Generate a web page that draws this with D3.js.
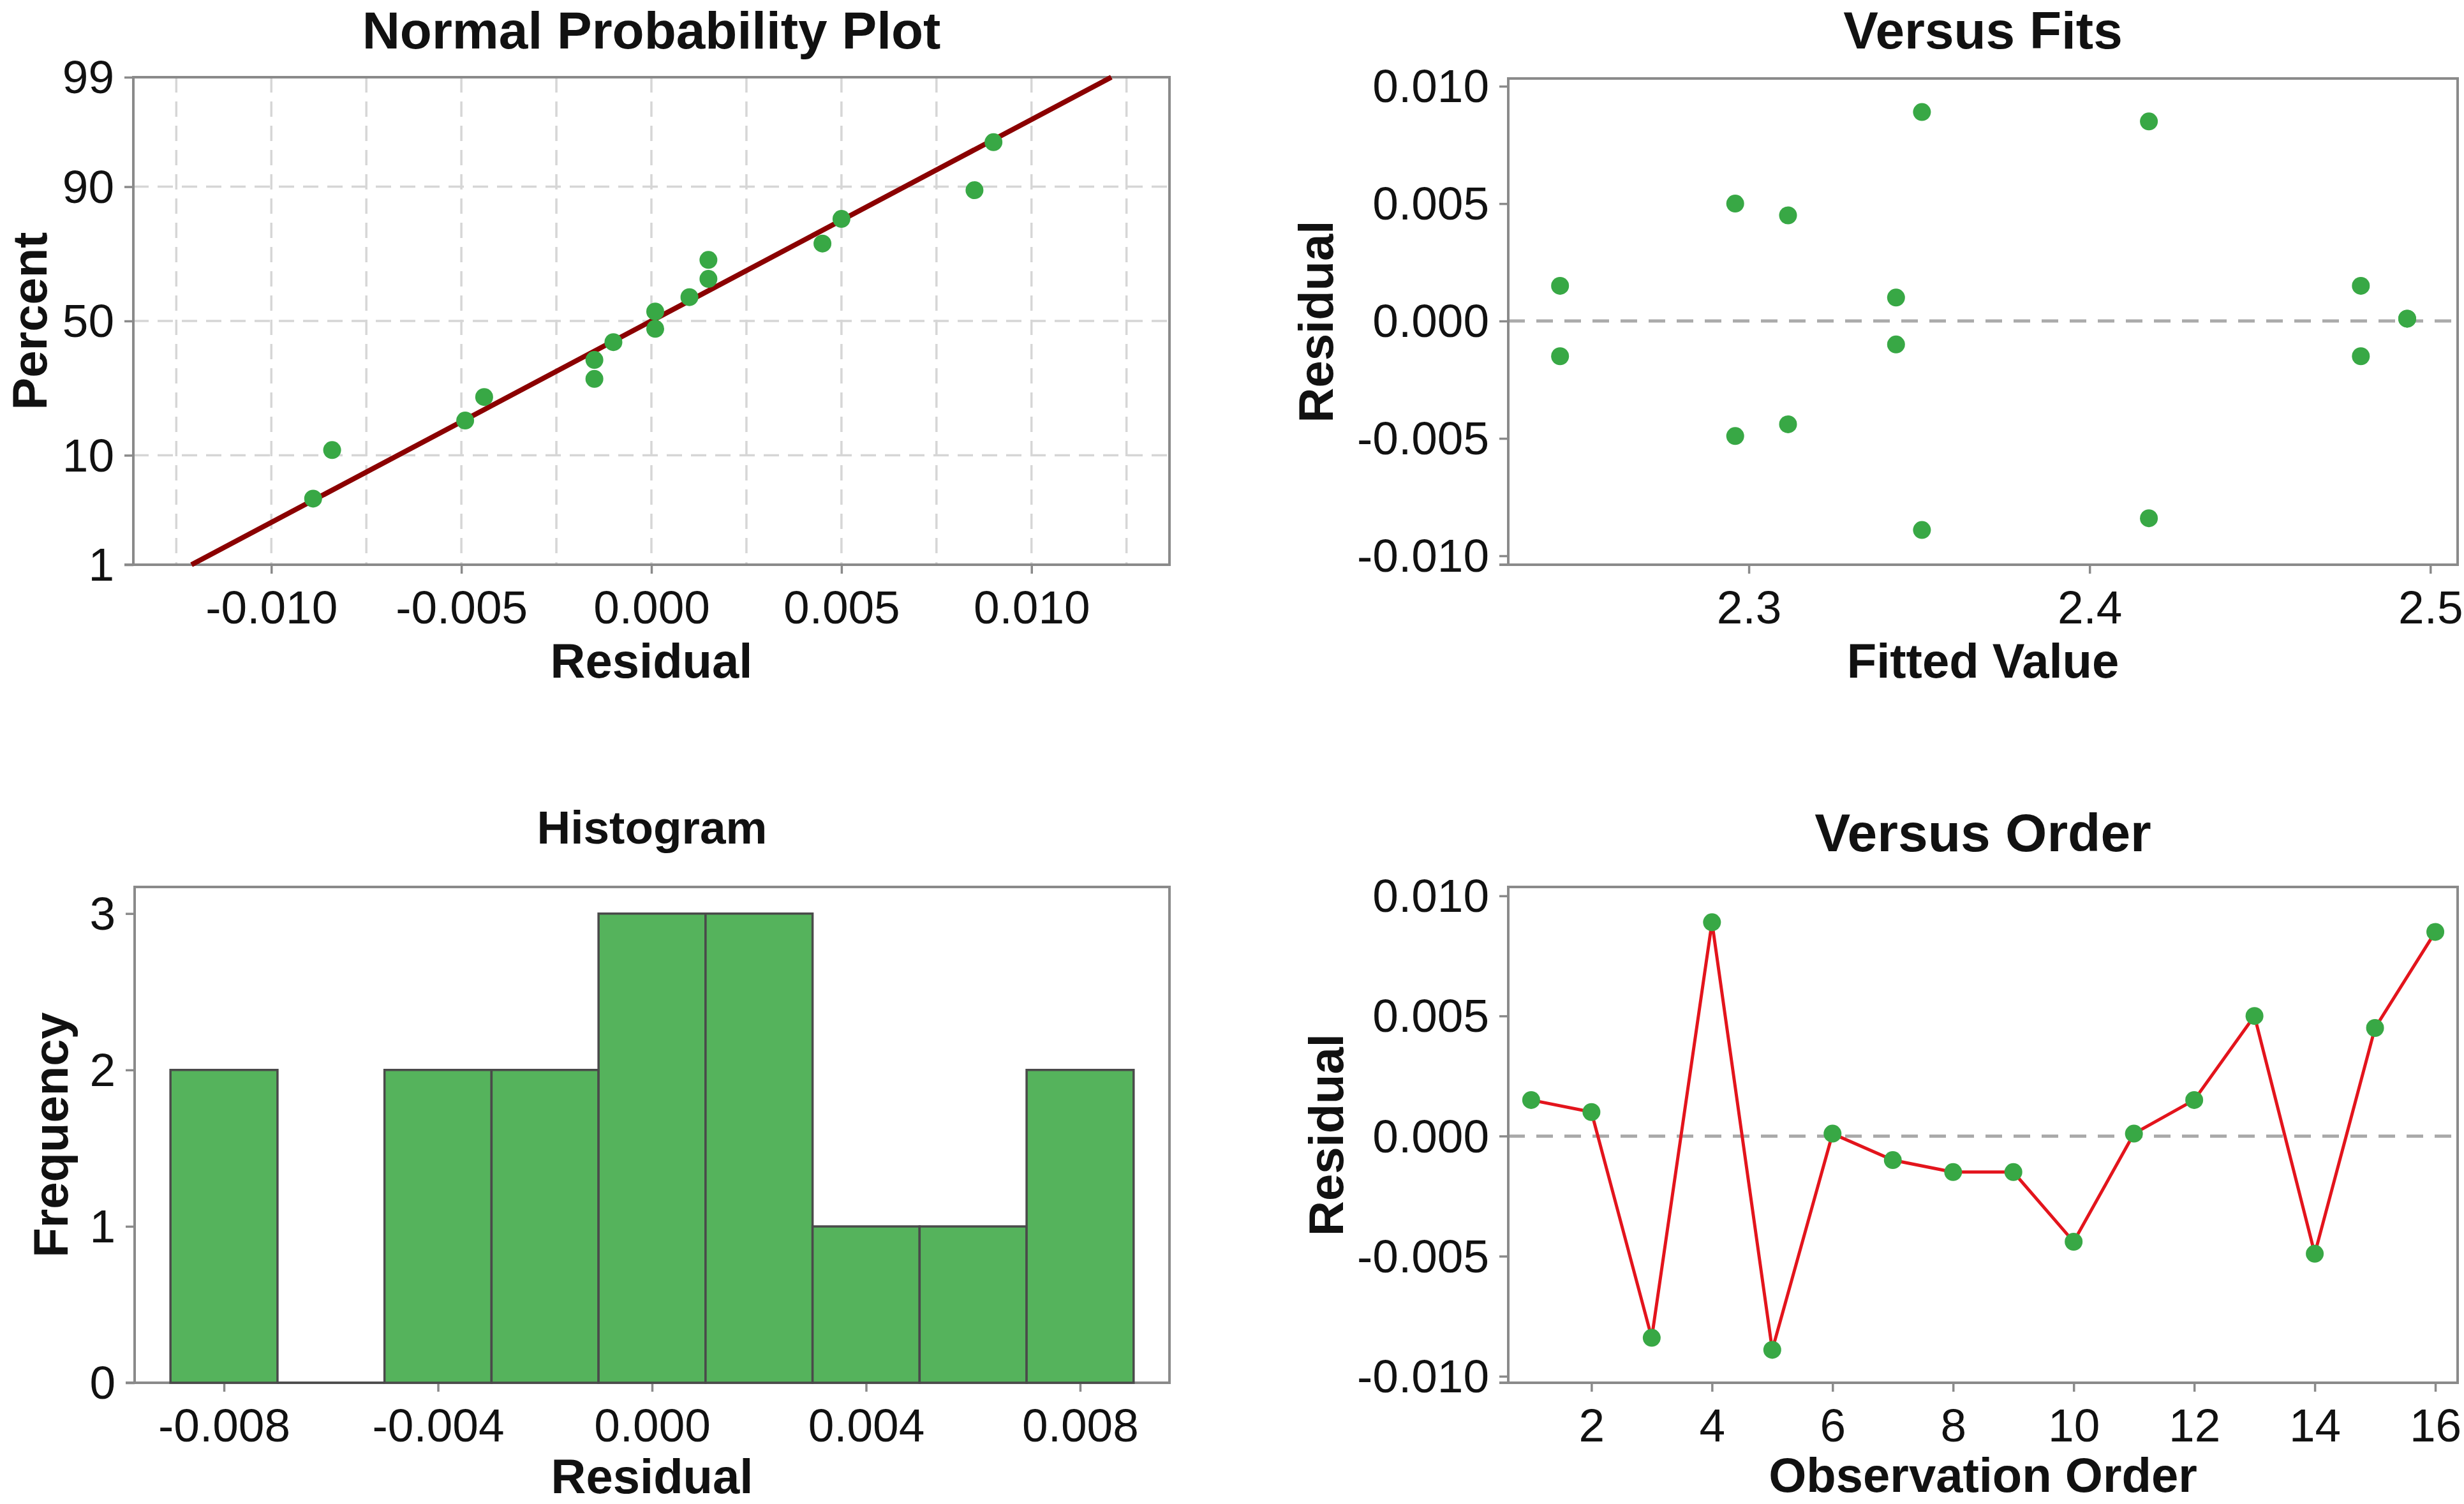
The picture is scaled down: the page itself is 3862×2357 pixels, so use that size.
<!DOCTYPE html>
<html>
<head>
<meta charset="utf-8">
<title>Residual Plots</title>
<script src="https://cdn.jsdelivr.net/npm/d3@7"></script>
<style>
  body { margin: 0; background: #fff; }
  text { font-family: "Liberation Sans", Arial, sans-serif; fill: #111; }
  .title { font-weight: bold; text-anchor: middle; }
  .label { font-weight: bold; font-size: 76px; text-anchor: middle; }
  .axis text { font-size: 73px; fill: #111; }
  .axis line { stroke: #8a8a8a; stroke-width: 3.5; }
  .axis path { display: none; }
</style>
</head>
<body>
<script>
// ---- data ----
// normal probability plot (sorted residuals and their plotted percent)
var npResidual = [-0.0089, -0.0084, -0.0049, -0.0044, -0.0015, -0.0015, -0.0010, 0.0001,
                  0.0001, 0.0010, 0.0015, 0.0015, 0.0045, 0.0050, 0.0085, 0.0090];
var npPercent  = [4.5, 10.9, 17.1, 23.4, 29.0, 35.5, 42.0, 47.0,
                  53.6, 59.0, 65.6, 72.0, 77.0, 83.5, 89.4, 95.6];
var fitLineResidual = [-0.0121, 0.0121];
var fitLinePercent  = [1, 99];

// residuals in observation order, and the fitted value of each observation
var order     = [1, 2, 3, 4, 5, 6, 7, 8, 9, 10, 11, 12, 13, 14, 15, 16];
var residuals = [0.0015, 0.0010, -0.0084, 0.0089, -0.0089, 0.0001, -0.0010, -0.0015,
                 -0.0015, -0.0044, 0.0001, 0.0015, 0.0050, -0.0049, 0.0045, 0.0085];
var fitted    = [2.2446, 2.3432, 2.4174, 2.3508, 2.3508, 2.4932, 2.3432, 2.2446,
                 2.4796, 2.3115, 2.4932, 2.4796, 2.2960, 2.2960, 2.3115, 2.4174];

// histogram
var binCenters = [-0.008, -0.006, -0.004, -0.002, 0.000, 0.002, 0.004, 0.006, 0.008];
var binCounts  = [2, 0, 2, 2, 3, 3, 1, 1, 2];
var binWidth = 0.002;

// tick labels
var npXTicks = [-0.010, -0.005, 0.000, 0.005, 0.010];
var npGridX = [-0.0125, -0.0100, -0.0075, -0.0050, -0.0025, 0, 0.0025, 0.0050, 0.0075, 0.0100, 0.0125];
var percentTicks = [1, 10, 50, 90, 99];
var percentGrid = [10, 50, 90];
var residTicks = [-0.010, -0.005, 0.000, 0.005, 0.010];
var fitTicks = [2.3, 2.4, 2.5];
var histXTicks = [-0.008, -0.004, 0.000, 0.004, 0.008];
var freqTicks = [0, 1, 2, 3];
var orderTicks = [2, 4, 6, 8, 10, 12, 14, 16];

// ---- layout ----
var width = 3862, height = 2357;
var tickLen = 14, tickPad = 16;
var green = "#38a845", histFill = "#55b35c", histStroke = "#4a4a4a";
var boxColor = "#8a8a8a";

var loc = d3.formatLocale({decimal: ".", thousands: ",", grouping: [3], currency: ["", ""], minus: "-"});
var f3 = loc.format(".3f"), f1 = loc.format(".1f"), f0 = loc.format("d");

// inverse standard normal cdf (Acklam), used by the probability scale
function probit(p) {
  var a = [-3.969683028665376e+01, 2.209460984245205e+02, -2.759285104469687e+02, 1.383577518672690e+02, -3.066479806614716e+01, 2.506628277459239e+00];
  var b = [-5.447609879822406e+01, 1.615858368580409e+02, -1.556989798598866e+02, 6.680131188771972e+01, -1.328068155288572e+01];
  var c = [-7.784894002430293e-03, -3.223964580411365e-01, -2.400758277161838e+00, -2.549732539343734e+00, 4.374664141464968e+00, 2.938163982698783e+00];
  var d = [7.784695709041462e-03, 3.224671290700398e-01, 2.445134137142996e+00, 3.754408661907416e+00];
  var pl = 0.02425, q, r;
  if (p < pl) {
    q = Math.sqrt(-2 * Math.log(p));
    return (((((c[0]*q+c[1])*q+c[2])*q+c[3])*q+c[4])*q+c[5]) / ((((d[0]*q+d[1])*q+d[2])*q+d[3])*q+1);
  }
  if (p > 1 - pl) {
    q = Math.sqrt(-2 * Math.log(1 - p));
    return -(((((c[0]*q+c[1])*q+c[2])*q+c[3])*q+c[4])*q+c[5]) / ((((d[0]*q+d[1])*q+d[2])*q+d[3])*q+1);
  }
  q = p - 0.5; r = q * q;
  return (((((a[0]*r+a[1])*r+a[2])*r+a[3])*r+a[4])*r+a[5])*q / (((((b[0]*r+b[1])*r+b[2])*r+b[3])*r+b[4])*r+1);
}

var svg = d3.select("body").append("svg").attr("width", width).attr("height", height);
svg.append("rect").attr("width", width).attr("height", height).attr("fill", "#fff");

function panel(box, o) {
  var g = svg.append("g");
  // axes
  g.append("g").attr("class", "axis").attr("transform", "translate(0," + box.y1 + ")")
    .call(d3.axisBottom(o.x).tickValues(o.xTicks).tickFormat(o.xFmt).tickSize(tickLen).tickPadding(26).tickSizeOuter(0));
  var ya = g.append("g").attr("class", "axis").attr("transform", "translate(" + box.x0 + ",0)")
    .call(d3.axisLeft(o.y).tickValues(o.yTicks).tickFormat(o.yFmt).tickSize(tickLen).tickPadding(tickPad).tickSizeOuter(0));
  ya.selectAll("text").attr("dy", "0.34em");
  // frame
  g.append("rect").attr("x", box.x0).attr("y", box.y0).attr("width", box.x1 - box.x0).attr("height", box.y1 - box.y0)
    .attr("fill", "none").attr("stroke", boxColor).attr("stroke-width", 4);
  g.append("line").attr("x1", box.x0 - tickLen).attr("x2", box.x0).attr("y1", box.y1).attr("y2", box.y1)
    .attr("stroke", boxColor).attr("stroke-width", 4);
  // titles
  var cx = (box.x0 + box.x1) / 2;
  g.append("text").attr("class", "title").attr("x", cx).attr("y", o.titleY).style("font-size", o.titleSize + "px").text(o.title);
  g.append("text").attr("class", "label").attr("x", cx).attr("y", o.xLabelY).text(o.xLabel);
  g.append("text").attr("class", "label").attr("dy", "0.35em")
    .attr("transform", "translate(" + o.yLabelX + "," + (box.y0 + box.y1) / 2 + ") rotate(-90)").text(o.yLabel);
  return g;
}

// ---- Normal Probability Plot ----
var b1 = {x0: 209, x1: 1833, y0: 121, y1: 885};
var x1 = d3.scaleLinear().domain([-0.01363, 0.01363]).range([b1.x0, b1.x1]);
var z1 = d3.scaleLinear().domain([probit(0.01), probit(0.99)]).range([b1.y1, b1.y0]);
function yP(p) { return z1(probit(p / 100)); }

var grid = svg.append("g").attr("stroke", "#d6d6d6").attr("stroke-width", 3.5).attr("stroke-dasharray", "24,14");
grid.selectAll(".gx").data(npGridX).enter().append("line")
  .attr("x1", function(d) { return x1(d); }).attr("x2", function(d) { return x1(d); })
  .attr("y1", b1.y0).attr("y2", b1.y1);
grid.selectAll(".gy").data(percentGrid).enter().append("line")
  .attr("y1", function(d) { return yP(d); }).attr("y2", function(d) { return yP(d); })
  .attr("x1", b1.x0).attr("x2", b1.x1);

var g1 = panel(b1, {
  x: x1, xTicks: npXTicks, xFmt: f3,
  y: z1, yTicks: percentTicks.map(function(p) { return probit(p / 100); }),
  yFmt: function(d, i) { return percentTicks[i]; },
  title: "Normal Probability Plot", titleY: 76, titleSize: 82,
  xLabel: "Residual", xLabelY: 1062, yLabel: "Percent", yLabelX: 46
});
g1.append("line")
  .attr("x1", x1(fitLineResidual[0])).attr("y1", yP(fitLinePercent[0]))
  .attr("x2", x1(fitLineResidual[1])).attr("y2", yP(fitLinePercent[1]))
  .attr("stroke", "#8b0000").attr("stroke-width", 8);
g1.selectAll("circle").data(npResidual).enter().append("circle")
  .attr("cx", function(d) { return x1(d); })
  .attr("cy", function(d, i) { return yP(npPercent[i]); })
  .attr("r", 14).attr("fill", green);

// ---- Versus Fits ----
var b2 = {x0: 2364, x1: 3852, y0: 123, y1: 885};
var x2 = d3.scaleLinear().domain([2.2294, 2.5080]).range([b2.x0, b2.x1]);
var y2 = d3.scaleLinear().domain([-0.01038, 0.01033]).range([b2.y1, b2.y0]);
svg.append("line").attr("x1", b2.x0).attr("x2", b2.x1).attr("y1", y2(0)).attr("y2", y2(0))
  .attr("stroke", "#aaaaaa").attr("stroke-width", 5).attr("stroke-dasharray", "26,18");
var g2 = panel(b2, {
  x: x2, xTicks: fitTicks, xFmt: f1,
  y: y2, yTicks: residTicks, yFmt: f3,
  title: "Versus Fits", titleY: 76, titleSize: 82,
  xLabel: "Fitted Value", xLabelY: 1062, yLabel: "Residual", yLabelX: 2062
});
g2.selectAll("circle").data(residuals).enter().append("circle")
  .attr("cx", function(d, i) { return x2(fitted[i]); })
  .attr("cy", function(d) { return y2(d); })
  .attr("r", 14).attr("fill", green);

// ---- Histogram ----
var b3 = {x0: 211, x1: 1833, y0: 1390, y1: 2167};
var x3 = d3.scaleLinear().domain([-0.00967, 0.00967]).range([b3.x0, b3.x1]);
var y3 = d3.scaleLinear().domain([0, 3.17]).range([b3.y1, b3.y0]);
var g3 = panel(b3, {
  x: x3, xTicks: histXTicks, xFmt: f3,
  y: y3, yTicks: freqTicks, yFmt: f0,
  title: "Histogram", titleY: 1322, titleSize: 73,
  xLabel: "Residual", xLabelY: 2340, yLabel: "Frequency", yLabelX: 79
});
g3.selectAll(".bar").data(binCenters).enter().append("path").attr("class", "bar")
  .attr("d", function(d, i) {
    var l = x3(d - binWidth / 2), r = x3(d + binWidth / 2), t = y3(binCounts[i]), bt = y3(0);
    return "M" + l + "," + bt + "V" + t + "H" + r + "V" + bt + "Z";
  })
  .attr("fill", histFill).attr("stroke", histStroke).attr("stroke-width", 3.5);

// ---- Versus Order ----
var b4 = {x0: 2364, x1: 3852, y0: 1390, y1: 2167};
var x4 = d3.scaleLinear().domain([0.62, 16.37]).range([b4.x0, b4.x1]);
var y4 = d3.scaleLinear().domain([-0.01027, 0.01037]).range([b4.y1, b4.y0]);
svg.append("line").attr("x1", b4.x0).attr("x2", b4.x1).attr("y1", y4(0)).attr("y2", y4(0))
  .attr("stroke", "#aaaaaa").attr("stroke-width", 5).attr("stroke-dasharray", "26,18");
var g4 = panel(b4, {
  x: x4, xTicks: orderTicks, xFmt: f0,
  y: y4, yTicks: residTicks, yFmt: f3,
  title: "Versus Order", titleY: 1334, titleSize: 84,
  xLabel: "Observation Order", xLabelY: 2338, yLabel: "Residual", yLabelX: 2078
});
var line4 = d3.line().x(function(d, i) { return x4(order[i]); }).y(function(d) { return y4(d); });
g4.append("path").datum(residuals).attr("d", line4)
  .attr("fill", "none").attr("stroke", "#e3141c").attr("stroke-width", 5);
g4.selectAll("circle").data(residuals).enter().append("circle")
  .attr("cx", function(d, i) { return x4(order[i]); })
  .attr("cy", function(d) { return y4(d); })
  .attr("r", 14).attr("fill", green);
</script>
</body>
</html>
